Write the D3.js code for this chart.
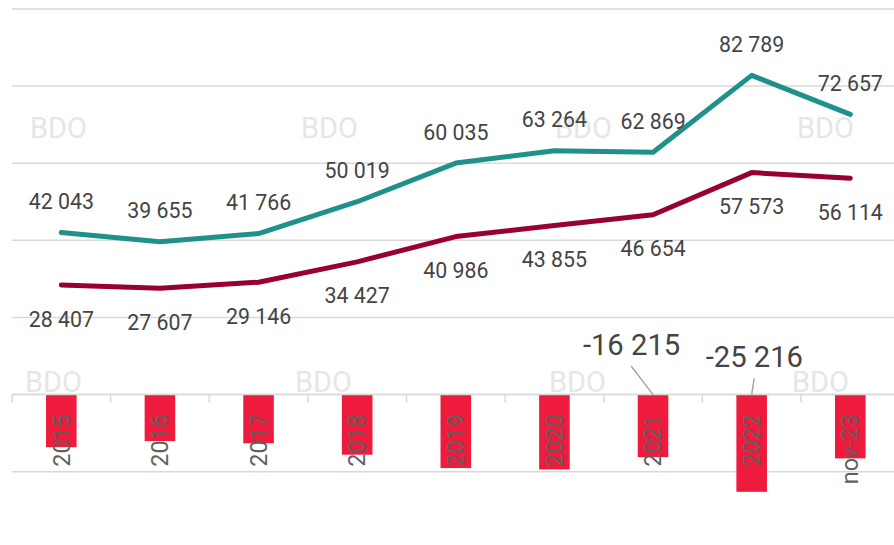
<!DOCTYPE html>
<html>
<head>
<meta charset="utf-8">
<script src="https://cdn.jsdelivr.net/npm/d3@7/dist/d3.min.js"></script>
<style>
  html, body { margin: 0; padding: 0; background: #ffffff; }
  svg { display: block; font-family: Roboto, "Noto Sans", sans-serif; }
</style>
</head>
<body>
<svg id="chart" width="894" height="545"></svg>
<script>
// ---- data ----
const categories = ["2015", "2016", "2017", "2018", "2019", "2020", "2021", "2022", "nov-23"];
const tealSeries = [42043, 39655, 41766, 50019, 60035, 63264, 62869, 82789, 72657];
const crimsonSeries = [28407, 27607, 29146, 34427, 40986, 43855, 46654, 57573, 56114];
const gapSeries = [-13636, -12048, -12620, -15592, -19049, -19409, -16215, -25216, -16543];
const labeledGaps = ["2021", "2022"];
const yTicks = [-20000, 0, 20000, 40000, 60000, 80000, 100000];
const watermarkText = "BDO";

// ---- layout ----
const W = 894, H = 545;
const svg = d3.select("#chart");
const fmt = v => d3.format(",")(v).replace(/,/g, "\u00a0");

const x = d3.scaleBand().domain(categories).range([12, 899.6]).padding(0);
const y = d3.scaleLinear().domain([-20000, 100000]).range([471.7, 9]);
const cx = c => x(c) + x.bandwidth() / 2;

const gridColor = "#d9d9d9";
const teal = "#1f918a";
const crimson = "#990032";
const barRed = "#ee1b3d";

// gridlines
svg.append("g").selectAll("line").data(yTicks).join("line")
  .attr("x1", 12).attr("x2", W)
  .attr("y1", d => y(d)).attr("y2", d => y(d))
  .attr("stroke", gridColor).attr("stroke-width", 1.5);

// watermarks
const wmLayer = svg.append("g");
const wmPositions = [[30, 138], [301, 138], [555, 138], [797, 138], [25, 392], [295, 392], [549, 392], [792, 392]];
wmLayer.selectAll("text").data(wmPositions).join("text")
  .attr("x", d => d[0]).attr("y", d => d[1])
  .attr("font-size", 29).attr("fill", "#e6e6e6")
  .text(watermarkText);

// bars
const barW = x.bandwidth() * 0.31;
svg.append("g").selectAll("rect").data(categories).join("rect")
  .attr("x", c => cx(c) - barW / 2)
  .attr("width", barW)
  .attr("y", (c, i) => y(Math.max(0, gapSeries[i])))
  .attr("height", (c, i) => Math.abs(y(gapSeries[i]) - y(0)))
  .attr("fill", barRed);

// axis at zero with ticks at band boundaries
const axisG = svg.append("g");
axisG.append("line")
  .attr("x1", 12).attr("x2", W)
  .attr("y1", y(0)).attr("y2", y(0))
  .attr("stroke", gridColor).attr("stroke-width", 1.5);
axisG.selectAll("line.tick").data(categories).join("line")
  .attr("class", "tick")
  .attr("x1", c => x(c)).attr("x2", c => x(c))
  .attr("y1", y(0)).attr("y2", y(0) + 8)
  .attr("stroke", gridColor).attr("stroke-width", 1.5);

// category labels (rotated)
svg.append("g").selectAll("text").data(categories).join("text")
  .attr("transform", c => `translate(${cx(c)},${y(0) + 19.5}) rotate(-90)`)
  .attr("text-anchor", "end")
  .attr("dy", "0.35em")
  .attr("font-size", 23.4)
  .attr("fill", "#5f5f5f")
  .text(c => c);

// lines
const line = d3.line().x((d, i) => cx(categories[i])).y(d => y(d));
svg.append("path").datum(crimsonSeries)
  .attr("d", line).attr("fill", "none")
  .attr("stroke", crimson).attr("stroke-width", 5)
  .attr("stroke-linejoin", "round").attr("stroke-linecap", "round");
svg.append("path").datum(tealSeries)
  .attr("d", line).attr("fill", "none")
  .attr("stroke", teal).attr("stroke-width", 5)
  .attr("stroke-linejoin", "round").attr("stroke-linecap", "round");

// value labels
const labelColor = "#444444";
svg.append("g").selectAll("text").data(tealSeries).join("text")
  .attr("x", (d, i) => cx(categories[i]))
  .attr("y", d => y(d) - 23.5)
  .attr("text-anchor", "middle")
  .attr("font-size", 21.3).attr("fill", labelColor)
  .text(fmt);
svg.append("g").selectAll("text").data(crimsonSeries).join("text")
  .attr("x", (d, i) => cx(categories[i]))
  .attr("y", d => y(d) + 41.5)
  .attr("text-anchor", "middle")
  .attr("font-size", 21.3).attr("fill", labelColor)
  .text(fmt);

// gap labels with leader lines
const gapLabelLayout = {
  "2021": { dx: -21.5, baseline: 355, lx1: -22, ly1: 366 },
  "2022": { dx: 2.7, baseline: 366.7, lx1: 2.5, ly1: 378.3 }
};
const gapG = svg.append("g");
labeledGaps.forEach(c => {
  const i = categories.indexOf(c);
  const L = gapLabelLayout[c];
  gapG.append("line")
    .attr("x1", cx(c) + L.lx1).attr("y1", L.ly1)
    .attr("x2", cx(c)).attr("y2", y(0))
    .attr("stroke", "#a6a6a6").attr("stroke-width", 1.5);
  gapG.append("text")
    .attr("x", cx(c) + L.dx).attr("y", L.baseline)
    .attr("text-anchor", "middle")
    .attr("font-size", 29.2).attr("fill", labelColor)
    .text(fmt(gapSeries[i]).replace("\u2212", "-"));
});
</script>
</body>
</html>
